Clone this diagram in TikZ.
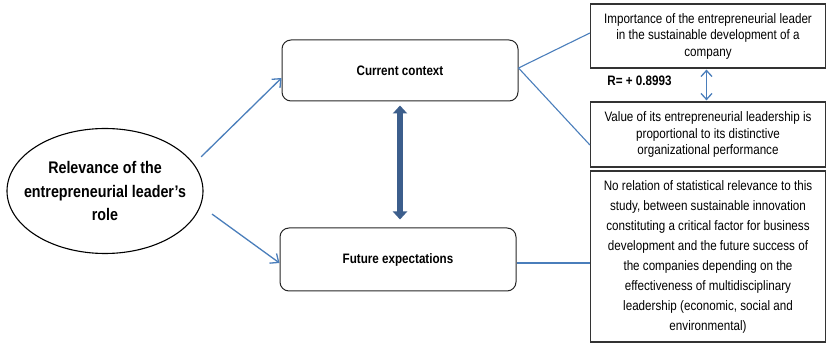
\documentclass[tikz,border=0pt]{standalone}
\usepackage{fontspec}
\setmainfont{Liberation Sans}[FakeStretch=0.85]
\usetikzlibrary{arrows.meta,positioning,shapes.geometric}

\definecolor{linkblue}{RGB}{74,126,187}
\definecolor{darkblue}{RGB}{60,94,140}

\tikzset{
  keybox/.style={draw=black!80, line width=1.2pt, minimum width=235pt, align=center, inner sep=0pt, font=\fontsize{13.7}{16.5}\selectfont},
  stage/.style={draw=black!85, rounded corners=9pt, line width=1pt, minimum width=236pt, font=\bfseries\fontsize{13.7}{16.5}\selectfont},
  flow/.style={->, >={Straight Barb[width=12pt,length=7pt]}, linkblue, line width=1.3pt},
  link/.style={linkblue, line width=1.1pt},
}

\begin{document}
\begin{tikzpicture}[x=1pt,y=-1pt]

            \useasboundingbox (0,0) rectangle (827,344);

            \node[ellipse,draw,line width=1.1pt,minimum width=196pt,minimum height=125pt,inner xsep=-40pt,inner ysep=-30pt,align=center,font=\bfseries\fontsize{16.8}{23.5}\selectfont] (role) at (105,191) {Relevance of the\\entrepreneurial leader’s\\role};

            \node[stage,minimum height=61pt] (current) at (400,70.5) {Current context};

            \node[stage,minimum height=63pt] (future) at (398,259.5) {Future expectations};

            \node[keybox,minimum height=64pt] (importance) at (708,36) {Importance of the entrepreneurial leader\\in the sustainable development of a\\company};

            \node[keybox,minimum height=65pt] (value) at (708,134.5) {Value of its entrepreneurial leadership is\\proportional to its distinctive\\organizational performance};

            \node[keybox,minimum height=171pt,font=\fontsize{13.7}{20}\selectfont] (norelation) at (708,256.5) {No relation of statistical relevance to this\\study, between sustainable innovation\\constituting a critical factor for business\\development and the future success of\\the companies depending on the\\effectiveness of multidisciplinary\\leadership (economic, social and\\environmental)};

            \node[font=\bfseries\fontsize{13.7}{16.5}\selectfont] (rvalue) at (639.5,81) {R= + 0.8993};

            

            \draw[flow] ([shift={(10.5pt,3pt)}]role.20) -- ([yshift=-7.5pt]current.west);
            \draw[flow] ([shift={(12pt,-6.3pt)}]role.-10) -- ([yshift=-3.5pt]future.west);

            \draw[link] ([yshift=2.5pt]current.east) -- ([yshift=3pt]importance.west);
            \draw[link] ([yshift=2.5pt]current.east) -- ([yshift=-10.5pt]value.west);
            \draw[link] ([yshift=-3.5pt]future.east) -- ([yshift=-3.5pt]future.east -| norelation.west);

            \draw[{Triangle[width=14pt,length=8pt]}-{Triangle[width=14pt,length=8pt]},darkblue,line width=6.5pt,shorten <=4pt,shorten >=8pt] (current.south) -- (current.south |- future.north);

            \draw[{Straight Barb[width=11pt,length=6pt]}-{Straight Barb[width=11pt,length=6pt]},linkblue,line width=1.3pt,shorten <=1pt,shorten >=1pt] ([xshift=-1.5pt]importance.south) -- ([xshift=-1.5pt]importance.south |- value.north);

\end{tikzpicture}
\end{document}
